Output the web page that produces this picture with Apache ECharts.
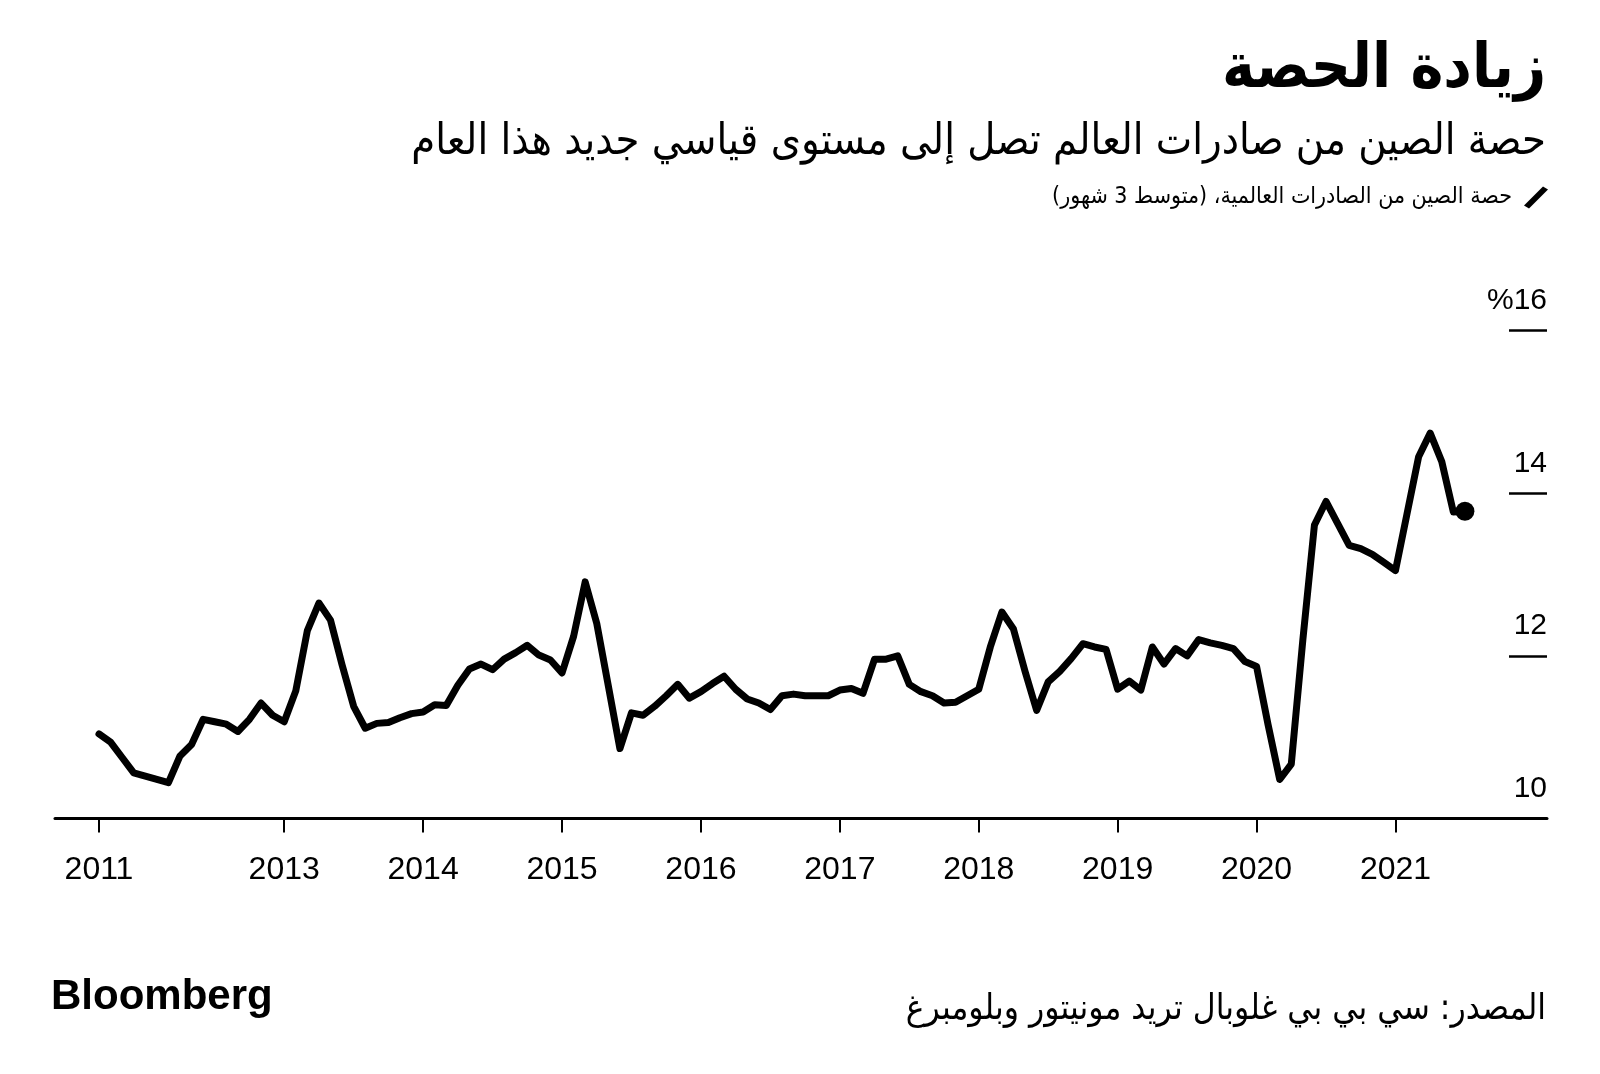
<!DOCTYPE html>
<html>
<head>
<meta charset="utf-8">
<script src="https://cdn.jsdelivr.net/npm/echarts@6/dist/echarts.min.js"></script>
<style>
html,body{margin:0;padding:0;background:#fff;}
#c{width:1600px;height:1074px;direction:rtl;}
</style>
</head>
<body>
<div id="c"></div>
<script>
// China's share of world exports, 3-month average (%), monthly from Sep 2011
const FIRST_YEAR = 2011;
const FIRST_MONTH = 9;
const share2011 = [11.04, 10.94, 10.75, 10.56];
const share2012 = [10.52, 10.48, 10.44, 10.77, 10.91, 11.22, 11.19, 11.16, 11.07, 11.22, 11.42, 11.27];
const share2013 = [11.19, 11.57, 12.31, 12.65, 12.44, 11.89, 11.38, 11.11, 11.17, 11.18, 11.24, 11.29];
const share2014 = [11.31, 11.40, 11.39, 11.64, 11.84, 11.90, 11.83, 11.96, 12.04, 12.13, 12.01, 11.95];
const share2015 = [11.79, 12.24, 12.91, 12.40, 11.63, 10.86, 11.30, 11.27, 11.38, 11.51, 11.65, 11.48];
const share2016 = [11.56, 11.66, 11.75, 11.59, 11.47, 11.42, 11.34, 11.51, 11.53, 11.51, 11.51, 11.51];
const share2017 = [11.58, 11.60, 11.54, 11.96, 11.96, 12.00, 11.65, 11.56, 11.51, 11.42, 11.43, 11.51];
const share2018 = [11.59, 12.11, 12.54, 12.33, 11.81, 11.33, 11.68, 11.81, 11.97, 12.15, 12.11, 12.08];
const share2019 = [11.59, 11.69, 11.58, 12.11, 11.90, 12.09, 12.00, 12.20, 12.16, 12.13, 12.09, 11.93];
const share2020 = [11.87, 11.15, 10.48, 10.67, 12.20, 13.61, 13.90, 13.63, 13.36, 13.32, 13.25, 13.15];
const share2021 = [13.05, 13.75, 14.45, 14.74, 14.39, 13.77, 13.78];

const tickMonths = ['2011-09', '2013-01', '2014-01', '2015-01', '2016-01', '2017-01', '2018-01', '2019-01', '2020-01', '2021-01'];
const tickLabels = ['2011', '2013', '2014', '2015', '2016', '2017', '2018', '2019', '2020', '2021'];
const yTickValues = [10, 12, 14, 16];

const titleText = 'زيادة الحصة';
const subtitleText = 'حصة الصين من صادرات العالم تصل إلى مستوى قياسي جديد هذا العام';
const legendName = 'حصة الصين من الصادرات العالمية، (متوسط 3 شهور)';
const sourceText = 'المصدر: سي بي بي غلوبال تريد مونيتور وبلومبرغ';

// ---- build
function monthIndex(s) {
  const [y, m] = s.split('-').map(Number);
  return (y - FIRST_YEAR) * 12 + (m - 1);
}
const allShares = [].concat(share2011, share2012, share2013, share2014, share2015, share2016,
  share2017, share2018, share2019, share2020, share2021);
const points = allShares.map((v, i) => [FIRST_MONTH - 1 + i, v]);
const tickValues = tickMonths.map(monthIndex);

const AR = "'DejaVu Sans Condensed', 'DejaVu Sans', sans-serif";
const LAT = "'Liberation Sans', Arial, sans-serif";

const chart = echarts.init(document.getElementById('c'), null, {renderer: 'canvas'});
chart.setOption({
  animation: false,
  backgroundColor: '#ffffff',
  title: [
    {text: titleText, right: 54, top: 40, padding: 0,
     textStyle: {fontFamily: AR, fontSize: 62, fontWeight: 'bold', color: '#000'}},
    {text: subtitleText, right: 54, top: 121, padding: 0,
     textStyle: {fontFamily: AR, fontSize: 43, fontWeight: 'normal', color: '#000'}},
    {text: sourceText, right: 54, top: 992, padding: 0,
     textStyle: {fontFamily: AR, fontSize: 35, fontWeight: 'normal', color: '#000'}},
    {text: 'Bloomberg', left: 51, top: 976, padding: 0,
     textStyle: {fontFamily: LAT, fontSize: 42, fontWeight: 'bold', color: '#000'}}
  ],
  legend: {
    right: 52, top: 186, align: 'right', orient: 'horizontal', padding: 0,
    itemWidth: 24, itemHeight: 22,
    data: [{name: legendName, icon: 'path://M0,19 L19,0 L24,3 L5,22 Z'}],
    itemStyle: {color: '#000', borderWidth: 0},
    textStyle: {fontFamily: AR, fontSize: 23, color: '#000', padding: [0, 7, 0, 0]},
    selectedMode: false
  },
  grid: {left: 55, right: 53, top: 330.7, bottom: 255.5},
  xAxis: {
    type: 'value', min: 4.2, max: 133.09,
    axisLine: {show: true, lineStyle: {color: '#000', width: 3}},
    axisTick: {show: true, customValues: tickValues, length: 14, lineStyle: {color: '#000', width: 2}},
    axisLabel: {
      customValues: tickValues, margin: 36, fontSize: 32, fontFamily: LAT, color: '#000',
      formatter: v => tickLabels[tickValues.indexOf(v)] || ''
    },
    splitLine: {show: false}
  },
  yAxis: {
    type: 'value', position: 'right', min: 10, max: 16, interval: 2,
    axisLine: {show: false},
    axisTick: {show: true, inside: true, length: 38, lineStyle: {color: '#000', width: 2.7}},
    axisLabel: {
      inside: true, margin: 0, align: 'right', verticalAlign: 'bottom', padding: [0, 0, 15, 0],
      fontSize: 30, fontFamily: LAT, color: '#000',
      formatter: v => (v === yTickValues[yTickValues.length - 1] ? '%' + v : String(v))
    },
    splitLine: {show: false}
  },
  series: [
    {
      type: 'line', name: legendName, data: points, symbol: 'none',
      lineStyle: {color: '#000', width: 7, join: 'round', cap: 'round'},
      itemStyle: {color: '#000'}
    },
    {
      type: 'scatter', name: 'latest', data: [points[points.length - 1]],
      symbol: 'circle', symbolSize: 19, itemStyle: {color: '#000', opacity: 1}, silent: true
    }
  ]
});
</script>
</body>
</html>
